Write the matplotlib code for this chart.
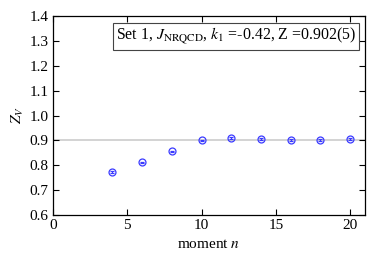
import numpy as np
import matplotlib
matplotlib.use("Agg")
import matplotlib.pyplot as plt

plt.rcParams["font.family"] = ["Liberation Serif", "DejaVu Serif"]
plt.rcParams["mathtext.fontset"] = "stix"

# data
moments = [4, 6, 8, 10, 12, 14, 16, 18, 20]
z_values = [0.772, 0.812, 0.856, 0.900, 0.909, 0.905, 0.901, 0.901, 0.905]
z_errors = [0.003, 0.003, 0.003, 0.003, 0.003, 0.003, 0.003, 0.003, 0.003]
z_fit = 0.902
z_fit_err = 0.005
label_text = r"Set 1, $J_{\rm NRQCD}$, $k_1$ =-0.42, Z =0.902(5)"

fig = plt.figure(figsize=(3.74, 2.62), dpi=100)
ax = fig.add_axes([53 / 374, 1 - 215 / 262, 312 / 374, 199 / 262])

ax.axhspan(z_fit - z_fit_err, z_fit + z_fit_err, color="#d4d4d4", lw=0, zorder=1)
ax.errorbar(moments, z_values, yerr=z_errors, fmt="o", mfc="none", mec="#3a3aff",
            ecolor="#3a3aff", ms=5, mew=0.9, elinewidth=0.8, capsize=1.5, zorder=3)

ax.set_xlim(0, 21)
ax.set_ylim(0.6, 1.4)
ax.set_xticks([0, 5, 10, 15, 20])
ax.set_yticks(np.arange(0.6, 1.41, 0.1))
ax.set_yticklabels([f"{v:.1f}" for v in np.arange(0.6, 1.41, 0.1)])
ax.tick_params(direction="in", top=True, right=True, length=4, width=0.8, labelsize=11, pad=3)
for s in ax.spines.values():
    s.set_linewidth(0.9)

ax.set_xlabel(r"moment $n$", fontsize=11, labelpad=4)
ax.set_ylabel(r"$Z_V$", fontsize=11, labelpad=3)

ax.text(0.972, 0.897, label_text, transform=ax.transAxes, ha="right", va="center",
        fontsize=11.4,
        bbox=dict(boxstyle="square,pad=0.2", fc="white", ec="#444444", lw=0.8))

fig.savefig("out.png", dpi=100)
